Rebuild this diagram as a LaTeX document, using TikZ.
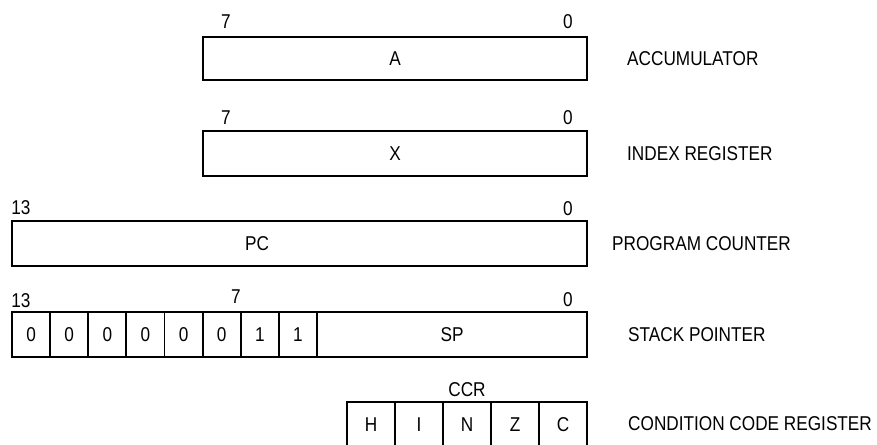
\documentclass[tikz,border=0pt]{standalone}
\usepackage{fontspec}
\setmainfont{Liberation Sans}[FakeStretch=0.86]
\begin{document}
\begin{tikzpicture}[x=1pt,y=-1pt,
  lbl/.style={font=\fontsize{20}{20}\selectfont, inner sep=0pt},
  regbox/.style={draw, line width=1.9pt, inner sep=0pt, font=\fontsize{20}{20}\selectfont},
  cellbox/.style={regbox, minimum height=45pt},
  regtitle/.style={lbl, anchor=west}]
\useasboundingbox (0,0) rectangle (877,444);
% Accumulator
\node[regbox, minimum width=384pt, minimum height=43pt] (A) at (395,58.5) {A};
\node[lbl] (a7) at (226,22) {7};
\node[lbl] (a0) at (568,22) {0};
\node[regtitle] (acc) at (627,59) {ACCUMULATOR};
% Index register
\node[regbox, minimum width=384pt, minimum height=45pt] (X) at (395,153.5) {X};
\node[lbl] (x7) at (226,118) {7};
\node[lbl] (x0) at (568,118) {0};
\node[regtitle] (idx) at (627,154) {INDEX REGISTER};
% Program counter
\node[regbox, minimum width=575pt, minimum height=45pt] (PCb) at (299.5,243.5) {};
\node[lbl] (pc) at (257,243.5) {PC};
\node[lbl] (p13) at (21,208) {13};
\node[lbl] (p0) at (568,209) {0};
\node[regtitle] (pcn) at (612,244) {PROGRAM COUNTER};
% Stack pointer
\foreach \i/\v in {0/0,1/0,2/0,3/0,4/0,5/0,6/1,7/1}{
  \node[cellbox, minimum width=38.125pt] (s\i) at ({12+38.125*\i+19.0625},334.5) {\v};
}
\node[cellbox, minimum width=270pt] (SP) at (452,334.5) {SP};
\node[lbl] (s13) at (21,301) {13};
\node[lbl] (s7) at (236,297) {7};
\node[lbl] (s0) at (568,300) {0};
\node[regtitle] (spn) at (628,335) {STACK POINTER};
% Condition code register
\foreach \i/\v in {0/H,1/I,2/N,3/Z,4/C}{
  \node[regbox, minimum width=48pt, minimum height=46pt] (c\i) at ({347+48*\i+24},425) {\v};
}
\node[lbl] (ccr) at (467,390) {CCR};
\node[regtitle] (ccn) at (628,424) {CONDITION CODE REGISTER};
\end{tikzpicture}
\end{document}
